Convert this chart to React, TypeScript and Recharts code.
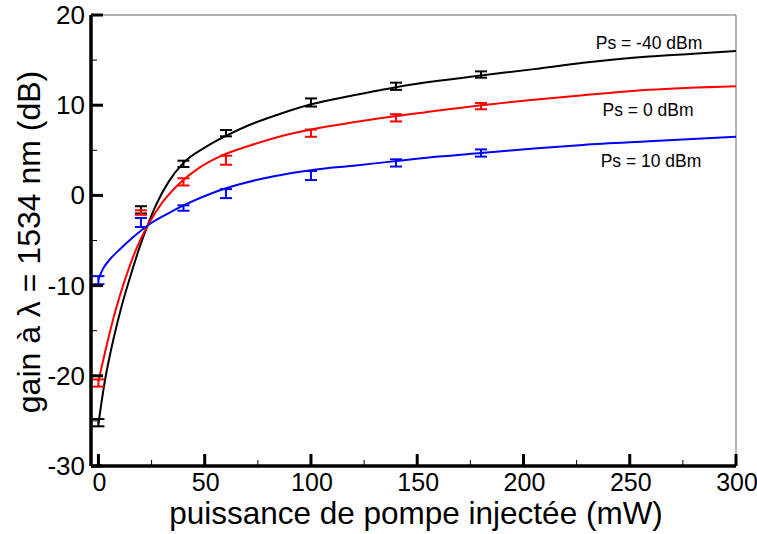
import React from "react";
import {
  ComposedChart,
  Line,
  Scatter,
  ErrorBar,
  XAxis,
  YAxis,
  ReferenceLine,
} from "recharts";

// measured points (pump power in mW)
const pumpPower = [0, 20, 40, 60, 100, 140, 180];
const gainM40 = [-25.2, -1.6, 3.5, 6.9, 10.3, 12.1, 13.4];
const errM40 = [0.4, 0.4, 0.35, 0.35, 0.45, 0.4, 0.35];
const gain0 = [-20.8, -1.9, 1.5, 3.9, 6.9, 8.6, 9.9];
const err0 = [0.4, 0.25, 0.4, 0.5, 0.4, 0.4, 0.35];
const gain10 = [-9.4, -3.0, -1.4, 0.2, 2.2, 3.6, 4.7];
const err10 = [0.45, 0.5, 0.3, 0.5, 0.5, 0.4, 0.4];

// fitted curves
const fitXM40 = [0, 3, 7, 11, 15, 19, 23, 27, 33, 40, 50, 60, 71, 85, 100, 120, 140, 160, 180, 205, 228, 259, 280, 300];
const fitYM40 = [-25.3, -20.6, -16.0, -12.2, -9.0, -6.0, -3.4, -1.1, 1.5, 3.6, 5.3, 6.6, 7.8, 9.0, 10.1, 11.1, 12.0, 12.7, 13.3, 14.0, 14.7, 15.4, 15.7, 16.0];
const fitX0 = [0, 4, 8, 12, 16, 20, 24, 30, 38, 47, 57, 71, 85, 100, 120, 140, 160, 180, 205, 228, 259, 300];
const fitY0 = [-20.6, -16.5, -12.8, -9.7, -7.0, -4.8, -3.0, -0.8, 1.3, 3.0, 4.3, 5.5, 6.5, 7.3, 8.1, 8.8, 9.4, 10.0, 10.6, 11.1, 11.7, 12.1];
const fitX10 = [0, 2, 5, 10, 16, 24, 32, 41, 54, 66, 82, 100, 120, 140, 160, 180, 205, 228, 259, 300];
const fitY10 = [-9.3, -8.2, -7.2, -6.0, -4.7, -3.2, -2.1, -1.0, 0.3, 1.2, 2.1, 2.8, 3.3, 3.8, 4.3, 4.7, 5.2, 5.6, 6.0, 6.5];

const seriesLabels = ["Ps = -40 dBm", "Ps = 0 dBm", "Ps = 10 dBm"];
const xTicks = [0, 25, 50, 75, 100, 125, 150, 175, 200, 225, 250, 275, 300];
const yTicks = [-30, -25, -20, -15, -10, -5, 0, 5, 10, 15, 20];
const xTitle = "puissance de pompe injectée (mW)";
const yTitle = "gain à λ = 1534 nm (dB)";

const toPoints = (xs: number[], ys: number[], errs?: number[]) =>
  xs.map((x, i) => ({ x, y: ys[i], err: errs ? errs[i] : 0 }));

const tickFont = '"Liberation Sans Narrow", "Liberation Sans", Arial, sans-serif';
const textFont = '"Liberation Sans", Arial, sans-serif';

function XTick(props: any) {
  const { x, y, payload } = props;
  const major = payload.value % 50 === 0;
  return (
    <g>
      <line x1={x} x2={x} y1={y} y2={y - (major ? 12 : 6)} stroke="#000" strokeWidth={major ? 3 : 1} />
      {major && (
        <text x={x + 1} y={y + 25} textAnchor="middle" fontSize={25} fontFamily={tickFont} fill="#000">
          {payload.value}
        </text>
      )}
    </g>
  );
}

function YTick(props: any) {
  const { x, y, payload } = props;
  const major = payload.value % 10 === 0;
  return (
    <g>
      <line x1={x} x2={x + (major ? 12 : 6)} y1={y} y2={y} stroke="#000" strokeWidth={major ? 3 : 1} />
      {major && (
        <text x={x - 6} y={y + 9} textAnchor="end" fontSize={26} fontFamily={tickFont} fill="#000">
          {payload.value}
        </text>
      )}
    </g>
  );
}

const series = [
  { fit: toPoints(fitXM40, fitYM40), pts: toPoints(pumpPower, gainM40, errM40), color: "#000000" },
  { fit: toPoints(fitX0, fitY0), pts: toPoints(pumpPower, gain0, err0), color: "#ff0000" },
  { fit: toPoints(fitX10, fitY10), pts: toPoints(pumpPower, gain10, err10), color: "#0000ff" },
];

export default function App() {
  return (
    <div style={{ position: "absolute", left: 0, top: 0, width: 757, height: 534, background: "#fff" }}>
      <ComposedChart width={757} height={534} margin={{ top: 15, right: 21, left: 0, bottom: 0 }}>
        <XAxis
          dataKey="x"
          type="number"
          domain={[-3.5, 300]}
          ticks={xTicks}
          height={68}
          tickSize={0}
          tickMargin={0}
          tickLine={false}
          tick={<XTick />}
          axisLine={{ stroke: "#000", strokeWidth: 3.5 }}
          interval={0}
        />
        <YAxis
          type="number"
          domain={[-30, 20]}
          ticks={yTicks}
          width={91}
          tickSize={0}
          tickMargin={0}
          tickLine={false}
          tick={<YTick />}
          axisLine={{ stroke: "#000", strokeWidth: 3.5 }}
          interval={0}
        />
        <ReferenceLine y={20} stroke="#666" strokeWidth={1} />
        <ReferenceLine x={300} stroke="#666" strokeWidth={1} />
        {series.map((s, i) => (
          <Line
            key={"fit" + i}
            data={s.fit}
            dataKey="y"
            type="monotone"
            stroke={s.color}
            strokeWidth={2}
            dot={false}
            activeDot={false}
            isAnimationActive={false}
          />
        ))}
        {series.map((s, i) => (
          <Scatter
            key={"pts" + i}
            data={s.pts}
            dataKey="y"
            fill={s.color}
            shape={() => <g />}
            isAnimationActive={false}
          >
            <ErrorBar dataKey="err" direction="y" width={6} stroke={s.color} strokeWidth={2} isAnimationActive={false} />
          </Scatter>
        ))}
      </ComposedChart>
      <svg width={757} height={534} style={{ position: "absolute", left: 0, top: 0, pointerEvents: "none" }}>
        <text x={649} y={49} textAnchor="middle" fontSize={17.5} fontFamily={textFont} fill="#000">
          {seriesLabels[0]}
        </text>
        <text x={648} y={116} textAnchor="middle" fontSize={17.5} fontFamily={textFont} fill="#000">
          {seriesLabels[1]}
        </text>
        <text x={651} y={167} textAnchor="middle" fontSize={17.5} fontFamily={textFont} fill="#000">
          {seriesLabels[2]}
        </text>
        <text x={416} y={524} textAnchor="middle" fontSize={31.5} fontFamily={textFont} fill="#000">
          {xTitle}
        </text>
        <text
          x={0}
          y={0}
          transform="translate(40 242) rotate(-90)"
          textAnchor="middle"
          fontSize={32}
          fontFamily={textFont}
          fill="#000"
        >
          {yTitle}
        </text>
      </svg>
    </div>
  );
}
